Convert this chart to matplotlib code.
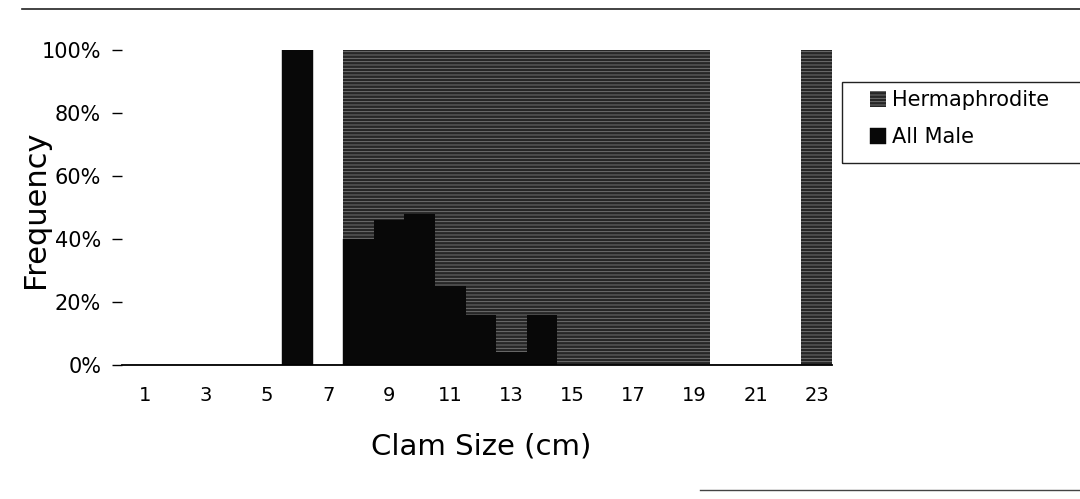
import matplotlib
matplotlib.use('Agg')
from matplotlib import pyplot as plt
from matplotlib.lines import Line2D
from matplotlib.patches import Rectangle
from matplotlib.ticker import PercentFormatter

plt.rcParams['font.family'] = ['DejaVu Sans']
plt.rcParams['hatch.linewidth'] = 0.6

sizes = list(range(1, 24))
# share of each size class (fraction of clams)
all_male = [0, 0, 0, 0, 0, 1.0, 0, 0.40, 0.46, 0.48, 0.25, 0.16, 0.04, 0.16,
            0, 0, 0, 0, 0, 0, 0, 0, 0]
hermaphrodite = [0, 0, 0, 0, 0, 0, 0, 0.60, 0.54, 0.52, 0.75, 0.84, 0.96, 0.84,
                 1.0, 1.0, 1.0, 1.0, 1.0, 0, 0, 0, 1.0]
tick_sizes = [1, 3, 5, 7, 9, 11, 13, 15, 17, 19, 21, 23]

fig = plt.figure(figsize=(10.8, 4.99), dpi=100)
ax = fig.add_axes([122 / 1080, 1 - 365 / 499, 710 / 1080, 315 / 499])

ax.bar(sizes, all_male, width=1.0, color='#080808', edgecolor='#080808',
       linewidth=0.3, label='All Male')
ax.bar(sizes, hermaphrodite, width=1.0, bottom=all_male, color='#262626',
       edgecolor='#7a7a7a', hatch='-----', linewidth=0.0, label='Hermaphrodite')

ax.set_xlim(0.25, 23.5)
ax.set_ylim(0, 1.0)
ax.set_yticks([0, 0.2, 0.4, 0.6, 0.8, 1.0])
ax.yaxis.set_major_formatter(PercentFormatter(1.0, decimals=0))
ax.set_xticks(tick_sizes)
ax.tick_params(axis='x', length=0, pad=15, labelsize=14)
ax.tick_params(axis='y', length=7, width=1.0, pad=8, labelsize=15)

for side in ['top', 'right', 'left']:
    ax.spines[side].set_visible(False)
ax.spines['bottom'].set_linewidth(1.3)

ax.set_ylabel('Frequency', fontsize=22)
ax.yaxis.set_label_coords(-0.101, 0.495)
ax.set_xlabel('Clam Size (cm)', fontsize=21)
ax.xaxis.set_label_coords(0.506, -0.215)

handles, labels = ax.get_legend_handles_labels()
leg = fig.legend(handles[::-1], labels[::-1], loc='upper left',
                 bbox_to_anchor=(866 / 1080, 1 - 86 / 499), fontsize=15,
                 frameon=False, handlelength=0.75, handleheight=0.8,
                 handletextpad=0.3, labelspacing=0.8, borderpad=0.2,
                 borderaxespad=0)
# legend box runs off the right edge of the page
fig.add_artist(Rectangle((842 / 1080, 1 - 163 / 499), 260 / 1080, 81 / 499,
                         transform=fig.transFigure, fill=False,
                         edgecolor='#222222', lw=1.0, clip_on=False))

# scan border lines
fig.add_artist(Line2D([0.02, 1.0], [1 - 9 / 499, 1 - 9 / 499], color='#222222', lw=1.2))
fig.add_artist(Line2D([700 / 1080, 1.0], [1 - 490 / 499, 1 - 490 / 499], color='#444444', lw=1.0))

fig.savefig('out.png', dpi=100)
